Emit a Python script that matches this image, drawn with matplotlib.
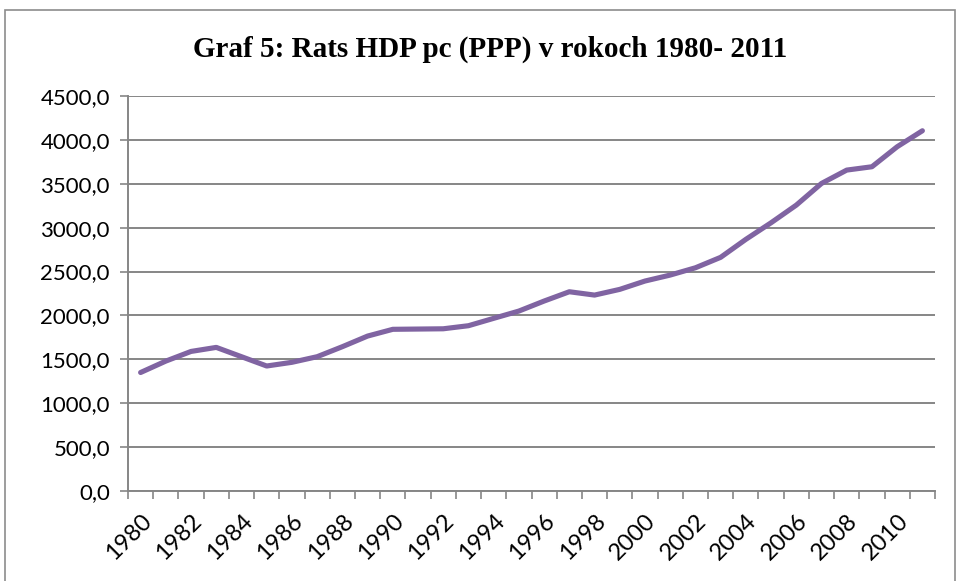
import matplotlib.pyplot as plt
import matplotlib.patches as patches
import numpy as np

years = list(range(1980, 2012))
hdp_pc = [1350, 1480, 1590, 1636, 1530, 1424, 1466, 1530, 1644, 1765,
          1842, 1845, 1848, 1883, 1967, 2050, 2164, 2270, 2232, 2297,
          2392, 2460, 2543, 2662, 2867, 3056, 3257, 3504, 3656, 3694,
          3922, 4104]
y_ticks = [0, 500, 1000, 1500, 2000, 2500, 3000, 3500, 4000, 4500]

title = "Graf 5: Rats HDP pc (PPP) v rokoch 1980- 2011"
grid_col = "#868686"
line_col = "#8064A2"

fig = plt.figure(figsize=(9.58, 5.81), dpi=100)
fig.patch.set_facecolor("white")

# outer chart frame
fig.patches.append(patches.Rectangle((5 / 958, -0.05), 950 / 958, 1 - 10 / 581 + 0.05,
                                     transform=fig.transFigure, fill=False,
                                     edgecolor="#8c8c8c", linewidth=1.2))

ax = fig.add_axes([128 / 958, 1 - 491 / 581, (935 - 128) / 958, (491 - 96) / 581])

x = np.arange(len(years))
ax.plot(x, hdp_pc, color=line_col, linewidth=3.7, solid_capstyle="round",
        solid_joinstyle="round", zorder=3)

ax.set_ylim(0, 4500)
ax.set_xlim(-0.5, len(years) - 0.5)
ax.set_yticks(y_ticks)
ax.set_yticklabels([f"{v},0" for v in y_ticks], fontfamily="Lato", fontsize=16)
ax.yaxis.grid(True, color=grid_col, linewidth=1.4)
ax.set_axisbelow(True)

# category boundaries as major ticks, labels on every other year
ax.set_xticks(np.arange(-0.5, len(years), 1.0))
ax.set_xticklabels([])
ax.set_xticks(x[::2], minor=True)
ax.set_xticklabels([str(y) for y in years[::2]], minor=True, rotation=45,
                   ha="right", va="top", rotation_mode="anchor",
                   fontfamily="Lato", fontsize=17)
ax.tick_params(axis="x", which="minor", length=0, pad=14)
ax.tick_params(axis="x", which="major", length=6, color=grid_col, width=1.2)
ax.tick_params(axis="y", length=6, color=grid_col, width=1.2, pad=7)

for s in ["top", "right"]:
    ax.spines[s].set_visible(False)
for s in ["left", "bottom"]:
    ax.spines[s].set_color(grid_col)
    ax.spines[s].set_linewidth(1.4)

fig.text(490 / 958, 1 - 49 / 581, title, ha="center", va="center",
         fontfamily="Liberation Serif", fontweight="bold", fontsize=21)

fig.savefig("out.png", dpi=100)
